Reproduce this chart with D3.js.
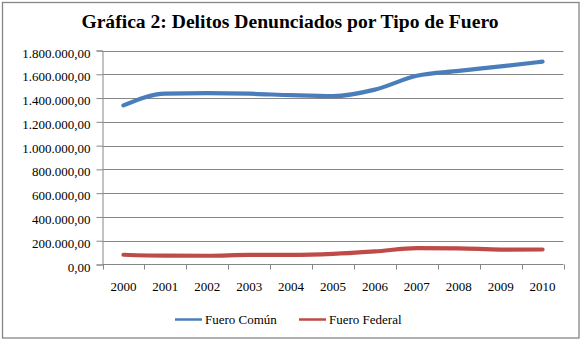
<!DOCTYPE html>
<html><head><meta charset="utf-8">
<script src="https://cdn.jsdelivr.net/npm/d3@7"></script>
<style>body{margin:0;background:#fff}svg{display:block}</style>
</head><body>
<svg id="c" width="581" height="341"></svg>
<script>
const years = ["2000","2001","2002","2003","2004","2005","2006","2007","2008","2009","2010"];
const fueroComun = [1338000,1438000,1442000,1437000,1424000,1416000,1471000,1587000,1628000,1666000,1706000];
const fueroFederal = [81800,74100,73800,81200,81500,89500,109600,137300,136100,125500,126200];
const yTicks = [0,200000,400000,600000,800000,1000000,1200000,1400000,1600000,1800000];
const seriesNames = ["Fuero Común","Fuero Federal"];
const colors = ["#4A7EBB","#BE4B48"];

const SERIF = "'Liberation Serif','Times New Roman','DejaVu Serif',serif";
const svg = d3.select("#c");
const L = 102.5, R = 563.5, T = 50.5, B = 264.5;
const x = d3.scaleBand().domain(years).range([L,R]);
const y = d3.scaleLinear().domain([0,1800000]).range([B,T]);
const fmt = v => d3.format(",.2f")(v).replace(/,/g,"#").replace(/\./,",").replace(/#/g,".");

svg.append("rect").attr("x",2.5).attr("y",2.5).attr("width",576.5).attr("height",335.5)
  .attr("fill","#fff").attr("stroke","#868686").attr("stroke-width",1.3);

svg.append("text").attr("x",290).attr("y",28).attr("text-anchor","middle")
  .attr("font-family",SERIF).attr("font-weight","bold").attr("font-size",19.6)
  .attr("fill","#000").text("Gráfica 2: Delitos Denunciados por Tipo de Fuero");

svg.append("g").selectAll("line").data(yTicks.slice(1)).join("line")
  .attr("x1",L).attr("x2",R).attr("y1",d=>Math.round(y(d))+0.5).attr("y2",d=>Math.round(y(d))+0.5)
  .attr("stroke","#868686").attr("stroke-width",1);

const yAxis = svg.append("g").attr("transform",`translate(${L},0)`)
  .call(d3.axisLeft(y).tickValues(yTicks).tickFormat(fmt).tickSize(6).tickPadding(6));
yAxis.attr("font-family",SERIF).attr("font-size",13);
yAxis.select(".domain").attr("stroke","#868686");
yAxis.selectAll(".tick line").attr("stroke","#868686");
yAxis.selectAll("text").attr("fill","#000").attr("dy","0.5em");

svg.append("line").attr("x1",L).attr("x2",R).attr("y1",B).attr("y2",B).attr("stroke","#868686");
const bounds = years.map(d=>x(d)).concat([R]);
svg.append("g").selectAll("line").data(bounds).join("line")
  .attr("x1",d=>Math.round(d)+0.5).attr("x2",d=>Math.round(d)+0.5).attr("y1",B).attr("y2",B+5).attr("stroke","#868686");
svg.append("g").selectAll("text").data(years).join("text")
  .attr("x",d=>x(d)+x.bandwidth()/2).attr("y",B+26).attr("text-anchor","middle")
  .attr("font-family",SERIF).attr("font-size",13).text(d=>d);

const line = d3.line().x((d,i)=>x(years[i])+x.bandwidth()/2).y(d=>y(d)).curve(d3.curveMonotoneX);
[fueroComun,fueroFederal].forEach((s,i)=>{
  svg.append("path").datum(s).attr("d",line).attr("fill","none").attr("stroke",colors[i])
    .attr("stroke-width",4.2).attr("stroke-linecap","round").attr("stroke-linejoin","round");
});

const lg = svg.append("g");
const lx = [175, 299];
seriesNames.forEach((n,i)=>{
  lg.append("line").attr("x1",lx[i]).attr("x2",lx[i]+27).attr("y1",319.5).attr("y2",319.5)
    .attr("stroke",colors[i]).attr("stroke-width",2.5);
  lg.append("text").attr("x",lx[i]+30).attr("y",324).attr("font-family",SERIF)
    .attr("font-size",13).text(n);
});
</script>
</body></html>
